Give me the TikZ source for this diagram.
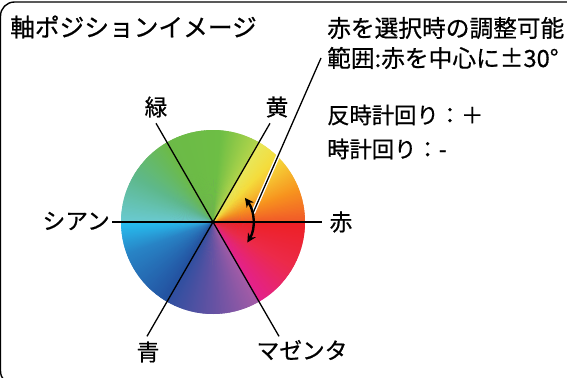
\documentclass[tikz,border=0pt]{standalone}
\usepackage{fontspec}
\setmainfont{Noto Sans CJK JP}[FakeBold=0.6]
\usetikzlibrary{arrows.meta,calc}
\definecolor{cA}{HTML}{F15A29}
\definecolor{cB}{HTML}{F7931E}
\definecolor{cC}{HTML}{F5DC3C}
\definecolor{cD}{HTML}{E8E85C}
\definecolor{cE}{HTML}{B3D54B}
\definecolor{cF}{HTML}{6DBE45}
\definecolor{cG}{HTML}{6CBA47}
\definecolor{cH}{HTML}{5EB88C}
\definecolor{cI}{HTML}{6ACAD2}
\definecolor{cJ}{HTML}{27BEEF}
\definecolor{cK}{HTML}{2884C6}
\definecolor{cL}{HTML}{23509F}
\definecolor{cM}{HTML}{2F4FA0}
\definecolor{cN}{HTML}{6652A3}
\definecolor{cO}{HTML}{A65CA7}
\definecolor{cP}{HTML}{E3218D}
\definecolor{cQ}{HTML}{EC2A4A}
\definecolor{cR}{HTML}{ED2024}
\definecolor{cBase}{HTML}{8A7A9A}
\tikzset{
  ln/.style={black,line width=1.3pt},
  lbl/.style={inner sep=0pt,font=\fontsize{22.8}{24}\selectfont},
  txt/.style={inner sep=0pt,anchor=west,font=\fontsize{23.8}{25}\selectfont},
  arr/.style={black,line width=2.4pt,{Stealth[length=9pt,width=9pt]}-{Stealth[length=9pt,width=9pt]}},
}
\begin{document}
\begin{tikzpicture}[x=1bp,y=1bp]
\useasboundingbox (0,0) rectangle (567,377);
\clip (0,0) rectangle (567,377);
\fill[white] (0,0) rectangle (567,377);
\draw[line width=1.4pt,rounded corners=14bp] (0.5,375) rectangle (620,-8);
\coordinate (C) at (213,155);
% colour wheel
\fill[cBase] (C) circle[radius=91.5];
\foreach \aS/\aE/\cS/\cE in {60/85/cE/cF,85/120/cF/cG,120/150/cG/cH,150/180/cH/cI,180/200/cJ/cK,200/240/cK/cL,240/270/cM/cN,270/300/cN/cO,300/330/cP/cQ,330/360/cQ/cR,0/20/cA/cB,20/45/cB/cC,45/60/cC/cD}{
  \pgfmathtruncatemacro\nn{\aE-\aS-1}
  \foreach \i in {0,...,\nn}{
    \pgfmathsetmacro\pp{100*\i/(\nn+1)}
    \pgfmathsetmacro\aa{\aS+\i}
    \colorlet{wc}{\cE!\pp!\cS}
    \fill[wc] (C) -- ($(C)+(\aa:92)$) arc[start angle=\aa,end angle=\aa+1.6,radius=92] -- cycle;
  }
}
% axes
\coordinate (hL) at (112,155);
\coordinate (hR) at (322,155);
\coordinate (gT) at ($(C)+(120:114)$);
\coordinate (gB) at ($(C)+(-60:132)$);
\coordinate (yT) at ($(C)+(60:114)$);
\coordinate (yB) at ($(C)+(240:132)$);
\draw[ln] (hL) -- (hR);
\draw[ln] (gT) -- (gB);
\draw[ln] (yT) -- (yB);
% callout
\coordinate (cl1) at (253,164);
\coordinate (cl2) at (321,319);
\draw[white,line width=4pt] (cl1) -- (cl2);
\draw[ln] (cl1) -- (cl2);
% arrow
\draw[arr] ($(C)+(-31:40)$) arc[start angle=-31,end angle=37,radius=40];
% labels
\node[lbl] (lG) at (156,270) {緑};
\node[lbl] (lY) at (277,270) {黄};
\node[lbl,anchor=east] (lC) at (110,156) {シアン};
\node[lbl] (lR) at (341,155) {赤};
\node[lbl] (lB) at (148,25) {青};
\node[lbl] (lM) at (302,27) {マゼンタ};
% texts
\node[txt,font=\fontsize{24.8}{26}\selectfont] (title) at (10,350) {軸ポジションイメージ};
\node[txt] (t1) at (327,349) {赤を選択時の調整可能};
\node[txt] (t2) at (327,319) {範囲:赤を中心に±30°};
\node[txt,font=\fontsize{22.4}{24}\selectfont] (t3) at (327,262) {反時計回り：＋};
\node[txt,font=\fontsize{22.4}{24}\selectfont] (t4) at (327,228) {時計回り：-};
\end{tikzpicture}
\end{document}
